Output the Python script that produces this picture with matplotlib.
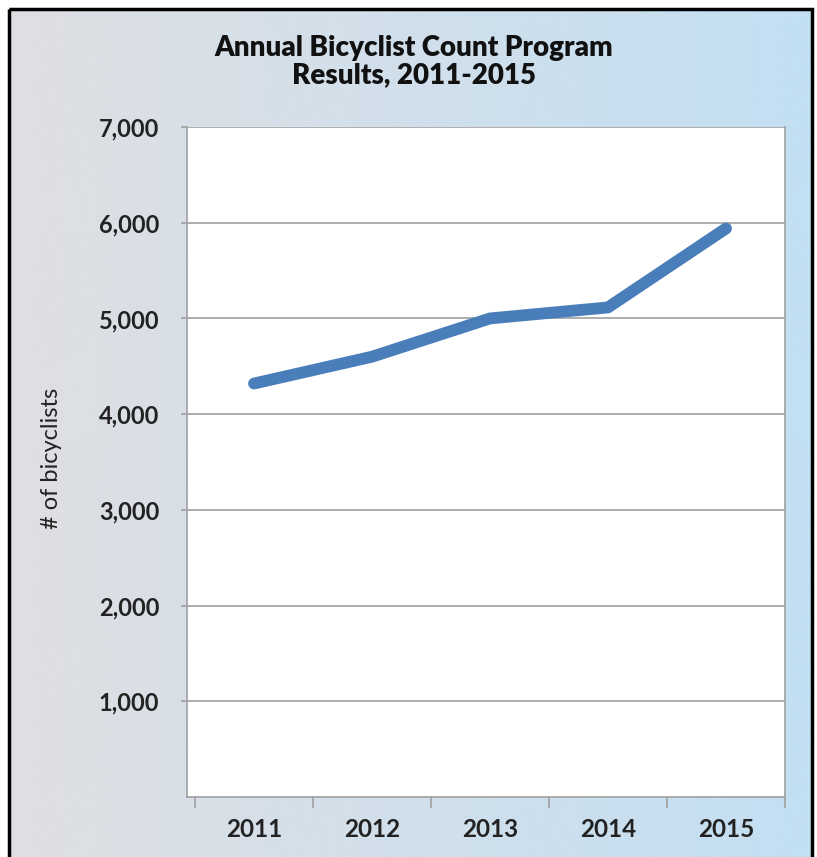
import numpy as np
import matplotlib.pyplot as plt
from matplotlib.patches import Rectangle

# Annual bicyclist counts
years = ["2011", "2012", "2013", "2014", "2015"]
counts = [4320, 4600, 5000, 5115, 5940]

fig = plt.figure(figsize=(8.17, 8.57), dpi=100)
fig.patch.set_facecolor("white")

# gradient background inside the black frame
bg = fig.add_axes([0, 0, 1, 1], zorder=0)
bg.set_xlim(0, 817)
bg.set_ylim(857, 0)
bg.axis("off")
left_col = np.array([223, 223, 227]) / 255
right_col = np.array([195, 223, 243]) / 255
t = np.linspace(0, 1, 256)[None, :, None]
grad = left_col + (right_col - left_col) * t
bg.imshow(grad, extent=[9, 812, 870, 9], aspect="auto", interpolation="bilinear")
bg.add_patch(Rectangle((9, 9), 803, 870, fill=False, edgecolor="black", linewidth=2.5))

ax = fig.add_axes([187 / 817, 1 - 797 / 857, (785 - 187) / 817, (797 - 127) / 857], zorder=1)
ax.set_facecolor("white")

x = np.arange(len(years))
ax.plot(x, counts, color="#4A7EBB", linewidth=8.5, solid_capstyle="round",
        solid_joinstyle="round", zorder=3)

ax.set_ylim(0, 7000)
ax.set_xlim(-0.568, 4.5)
ax.set_yticks(np.arange(1000, 7001, 1000))
ax.set_yticklabels([f"{v:,}" for v in range(1000, 7001, 1000)])
ax.yaxis.grid(True, color="#A0A0A0", linewidth=1.2)
ax.set_axisbelow(True)

# category boundaries as ticks, labels in the middle
ax.set_xticks(np.arange(-0.5, 5, 1))
ax.set_xticklabels([])
ax.set_xticks(x, minor=True)
ax.set_xticklabels(years, minor=True)
ax.tick_params(axis="x", which="major", length=8, color="#A0A0A0", width=1.2)
ax.tick_params(axis="x", which="minor", length=0, pad=15, labelsize=17.5)
ax.tick_params(axis="y", length=4, color="#A0A0A0", width=1.2, pad=16, labelsize=17)

for lab in ax.get_xticklabels(minor=True) + ax.get_yticklabels():
    lab.set_fontfamily("Lato")
    lab.set_fontweight("bold")
    lab.set_color("#222222")

for side in ["left", "bottom", "right"]:
    ax.spines[side].set_color("#A0A0A0")
    ax.spines[side].set_linewidth(1.2)
ax.spines["top"].set_visible(False)

fig.text(52 / 817, 1 - 458 / 857, "# of bicyclists", rotation=90, ha="center", va="center",
         fontsize=17, family="Lato", color="#222222")

fig.text(414 / 817, 1 - 62 / 857, "Annual Bicyclist Count Program\nResults, 2011-2015",
         ha="center", va="center", fontsize=20, family="Lato", fontweight="heavy",
         linespacing=1.05, color="#111111")

fig.savefig("out.png", dpi=100)
